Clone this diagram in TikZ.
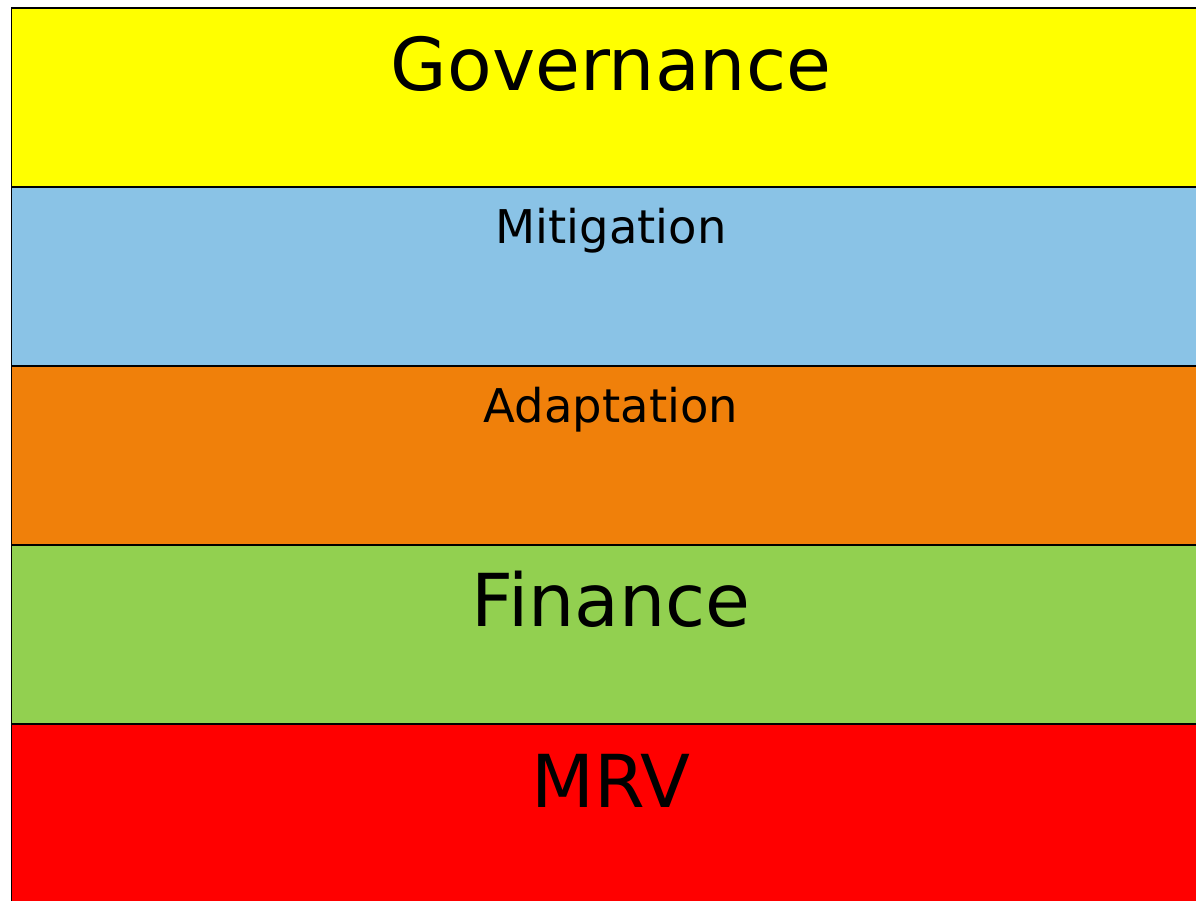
\documentclass[tikz,border=0pt]{standalone}
\usepackage{fontspec}
\setmainfont{DejaVu Sans}
\definecolor{govyellow}{RGB}{255,255,0}
\definecolor{mitblue}{RGB}{138,195,230}
\definecolor{adaorange}{RGB}{240,128,10}
\definecolor{fingreen}{RGB}{146,208,80}
\definecolor{mrvred}{RGB}{255,0,0}
\begin{document}
\begin{tikzpicture}
            [
                x = 1pt, y = -1pt,
                band/.style  = {draw, line width=1.8pt, shape=rectangle,
                anchor=north west, inner sep=0pt,
                minimum width=1215pt, minimum height=179pt},
                big/.style   = {anchor=base, inner sep=0pt,
                font=\fontsize{73}{80}\selectfont},
                small/.style = {anchor=base, inner sep=0pt,
                font=\fontsize{46.5}{52}\selectfont}
            ]
            \clip (0,0) rectangle (1196,900);
            \node [band, fill=govyellow] (gov) at (10.5,7)   {};
            \node [band, fill=mitblue]   (mit) at (10.5,186) {};
            \node [band, fill=adaorange] (ada) at (10.5,365) {};
            \node [band, fill=fingreen]  (fin) at (10.5,544) {};
            \node [band, fill=mrvred, minimum height=200pt] (mrv) at (10.5,723) {};
            \node [big]   (govtext) at (611,90)  {Governance};
            \node [small] (mittext) at (611,243) {Mitigation};
            \node [small] (adatext) at (611,422) {Adaptation};
            \node [big]   (fintext) at (611,626) {Finance};
            \node [big]   (mrvtext) at (611,807) {MRV};
        \end{tikzpicture}
\end{document}
